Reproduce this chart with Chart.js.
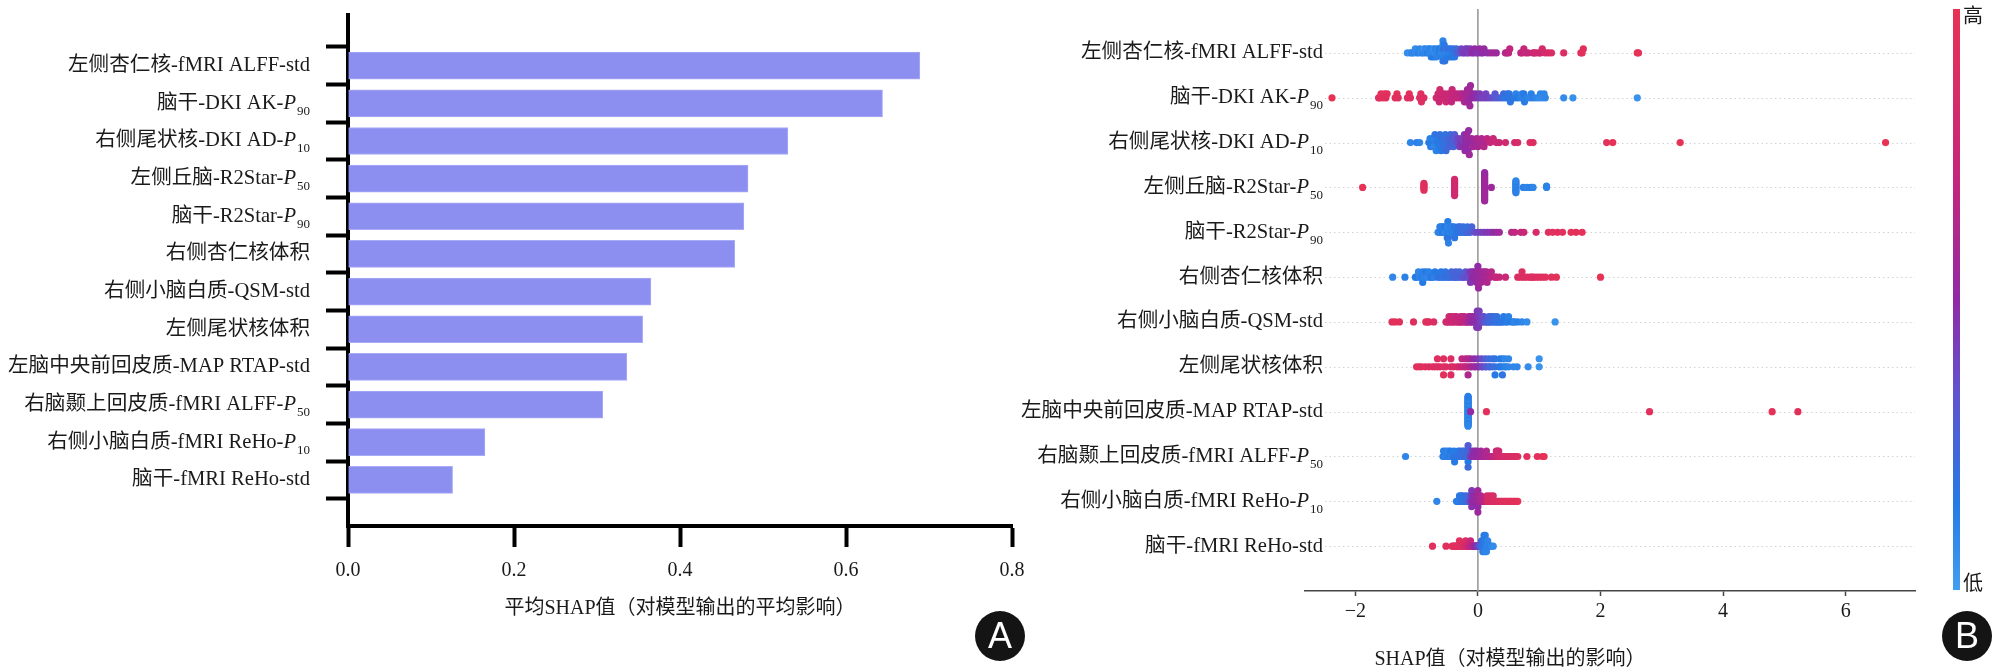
<!DOCTYPE html>
<html><head><meta charset="utf-8">
<script src="https://cdn.jsdelivr.net/npm/chart.js@4.4.1/dist/chart.umd.min.js"></script>
<style>
html,body{margin:0;padding:0;background:#fff;width:1995px;height:670px;overflow:hidden;position:relative;font-family:"Liberation Serif","Noto Sans CJK SC",serif;color:#1a1a1a}
canvas{position:absolute;top:0}
#ca{left:0}
#cb{left:1000px}
.badge{position:absolute;width:50px;height:50px;border-radius:50%;background:#141414;color:#fff;font:36px "Liberation Sans",Arial,sans-serif;line-height:50px;text-align:center}
.txt{position:absolute;font-size:20px;line-height:24px;white-space:nowrap}
#cbar{position:absolute;left:1953px;top:9px;width:7px;height:581px}
</style>
</head><body>
<canvas id="ca" width="1030" height="670"></canvas>
<canvas id="cb" width="995" height="670"></canvas>
<div id="cbar"></div>
<div class="txt" style="left:1963px;top:4px">高</div>
<div class="txt" style="left:1963px;top:571px">低</div>
<div class="txt" id="titleB" style="left:1510px;top:646px;transform:translateX(-50%)"></div>
<div class="badge" style="left:975px;top:611px">A</div>
<div class="badge" style="left:1942px;top:611px">B</div>
<script>
// ---------- DATA ----------
const featureLabels = [
  '左侧杏仁核-fMRI ALFF-std',
  '脑干-DKI AK-P90',
  '右侧尾状核-DKI AD-P10',
  '左侧丘脑-R2Star-P50',
  '脑干-R2Star-P90',
  '右侧杏仁核体积',
  '右侧小脑白质-QSM-std',
  '左侧尾状核体积',
  '左脑中央前回皮质-MAP RTAP-std',
  '右脑颞上回皮质-fMRI ALFF-P50',
  '右侧小脑白质-fMRI ReHo-P10',
  '脑干-fMRI ReHo-std'
];
const meanShap = [0.689, 0.644, 0.530, 0.482, 0.477, 0.466, 0.365, 0.355, 0.336, 0.307, 0.165, 0.126];
const xTicksA = [0, 0.2, 0.4, 0.6, 0.8];
const xTicksB = [-2, 0, 2, 4, 6];
const xTitleA = '平均SHAP值（对模型输出的平均影响）';
const xTitleB = 'SHAP值（对模型输出的影响）';

// beeswarm rows: [SHAP value, normalised feature value (0 low .. 1 high)]
const r01 = [[-1.15,.08],[-1.1,.05],[-1.08,.1],[-1.05,.1],[-1.02,.08],[-1.0,.08],[-0.97,.12],[-0.95,.1],[-0.92,.06],[-0.9,.12],[-0.88,.05],[-0.86,.1],[-0.85,.1],[-0.82,.14],[-0.8,.08],[-0.79,.1],[-0.78,.12],[-0.76,.15],[-0.75,.1],[-0.73,.08],[-0.72,.15],[-0.7,.08],[-0.69,.12],[-0.68,.12],[-0.66,.1],[-0.65,.1],[-0.63,.14],[-0.62,.15],[-0.6,.1],[-0.59,.12],[-0.58,.12],[-0.57,.08],[-0.57,.15],[-0.57,.1],[-0.56,.1],[-0.56,.2],[-0.55,.12],[-0.55,.16],[-0.54,.18],[-0.52,.1],[-0.51,.14],[-0.5,.15],[-0.49,.12],[-0.48,.2],[-0.46,.15],[-0.45,.12],[-0.44,.18],[-0.42,.18],[-0.41,.15],[-0.4,.2],[-0.38,.15],[-0.36,.2],[-0.35,.22],[-0.33,.25],[-0.3,.3],
  [-0.27,.38],[-0.25,.4],[-0.22,.42],[-0.2,.42],[-0.18,.45],[-0.17,.42],[-0.15,.4],[-0.12,.46],[-0.1,.48],[-0.07,.5],[-0.05,.5],[-0.02,.48],[0.0,.45],[0.03,.52],[0.05,.5],[0.08,.5],[0.1,.52],[0.15,.48],[0.2,.55],[0.25,.55],[0.3,.55],
  [0.45,.65],[0.47,.62],[0.5,.68],[0.52,.7],[0.7,.7],[0.72,.68],[0.75,.72],[0.78,.75],[0.82,.7],[0.9,.78],[0.92,.75],[0.95,.8],[1.0,.8],[1.02,.78],[1.05,.82],[1.1,.85],[1.15,.85],[1.2,.88],[1.4,.9],
  [1.68,.97],[1.7,.95],[1.72,.95],[2.6,1],[2.62,.98]];
const r02 = [[-2.38,1],[-1.62,.95],[-1.6,.93],[-1.58,.97],[-1.55,.95],[-1.52,.94],[-1.5,.93],[-1.48,.95],[-1.35,.95],[-1.32,.97],[-1.3,.93],[-1.15,.92],[-1.12,.94],[-1.1,.9],[-0.95,.9],[-0.93,.94],[-0.92,.92],[-0.88,.9],
  [-0.68,.8],[-0.66,.82],[-0.65,.78],[-0.63,.76],[-0.62,.8],[-0.6,.75],[-0.58,.8],[-0.55,.78],[-0.54,.75],[-0.52,.8],[-0.5,.75],[-0.48,.78],[-0.46,.74],[-0.45,.72],[-0.43,.7],[-0.42,.75],[-0.4,.7],[-0.38,.72],[-0.35,.72],[-0.33,.68],[-0.3,.7],[-0.28,.68],[-0.26,.66],[-0.25,.65],
  [-0.22,.6],[-0.21,.62],[-0.2,.58],[-0.18,.6],[-0.17,.55],[-0.16,.58],[-0.15,.6],[-0.15,.55],[-0.14,.58],[-0.13,.56],[-0.12,.55],[-0.1,.5],[-0.08,.52],[-0.05,.5],[-0.03,.48],
  [0.0,.45],[0.03,.44],[0.05,.42],[0.1,.4],[0.13,.4],[0.15,.42],[0.2,.38],[0.25,.35],[0.28,.32],[0.3,.3],[0.35,.3],
  [0.4,.2],[0.42,.22],[0.45,.18],[0.48,.2],[0.5,.15],[0.51,.18],[0.53,.16],[0.55,.2],[0.6,.15],[0.62,.12],[0.65,.15],[0.7,.12],[0.72,.1],[0.74,.12],[0.75,.15],[0.76,.14],[0.8,.12],[0.85,.1],[0.87,.12],[0.9,.12],[0.95,.1],[1.0,.08],[1.02,.1],[1.05,.08],[1.08,.1],[1.1,.1],[1.4,.08],[1.55,.06],[2.6,.05]];
const r03 = [[-1.1,.1],[-1.0,.12],[-0.95,.1],[-0.8,.15],[-0.78,.12],[-0.77,.14],[-0.75,.15],[-0.73,.12],[-0.72,.1],[-0.7,.18],[-0.68,.12],[-0.66,.16],[-0.65,.15],[-0.63,.14],[-0.62,.2],[-0.6,.15],[-0.58,.18],[-0.57,.2],[-0.55,.2],[-0.53,.18],[-0.52,.22],[-0.5,.2],[-0.48,.25],[-0.47,.24],[-0.45,.22],[-0.43,.26],[-0.42,.28],[-0.4,.25],[-0.38,.3],[-0.35,.32],
  [-0.32,.4],[-0.3,.42],[-0.28,.45],[-0.26,.42],[-0.24,.48],[-0.22,.45],[-0.21,.5],[-0.2,.48],[-0.2,.52],[-0.19,.5],[-0.18,.55],[-0.16,.5],[-0.15,.52],[-0.14,.55],[-0.12,.5],[-0.1,.55],[-0.08,.58],[-0.05,.55],[-0.02,.6],[0.0,.58],[0.03,.6],[0.06,.62],[0.1,.65],[0.12,.62],[0.15,.68],
  [0.2,.72],[0.25,.75],[0.3,.78],[0.35,.75],[0.45,.8],[0.6,.82],[0.65,.85],[0.85,.92],[0.9,.9],
  [2.1,.97],[2.2,.98],[3.3,1],[6.65,1]];
const r04 = [[-1.88,1],
  [-0.88,.95],[-0.88,.93],[-0.88,.95],[-0.88,.97],[-0.88,.95],[-0.88,.93],
  [-0.38,.8],[-0.38,.78],[-0.38,.8],[-0.38,.82],[-0.38,.8],[-0.38,.78],[-0.38,.8],[-0.38,.82],[-0.38,.8],[-0.38,.78],[-0.38,.8],[-0.38,.82],[-0.38,.8],
  [0.11,.55],[0.11,.52],[0.11,.55],[0.11,.58],[0.11,.55],[0.11,.52],[0.11,.55],[0.11,.58],[0.11,.55],[0.11,.52],[0.11,.55],[0.11,.58],[0.11,.55],[0.11,.52],[0.11,.55],[0.11,.58],[0.11,.55],[0.11,.52],[0.11,.55],[0.11,.58],[0.11,.55],[0.11,.52],
  [0.22,.55],
  [0.62,.12],[0.62,.1],[0.62,.12],[0.62,.14],[0.62,.12],[0.62,.1],[0.62,.12],[0.62,.14],[0.62,.12],[0.62,.1],
  [0.74,.12],[0.8,.1],[0.86,.12],[0.9,.1],
  [1.12,.1],[1.12,.12]];
const r05 = [[-0.65,.1],[-0.63,.12],[-0.62,.12],[-0.6,.1],[-0.6,.14],[-0.58,.15],[-0.57,.1],[-0.55,.12],[-0.55,.16],[-0.53,.1],[-0.52,.1],[-0.5,.15],[-0.5,.12],[-0.49,.12],[-0.49,.1],[-0.49,.18],[-0.49,.14],[-0.48,.12],[-0.47,.15],[-0.46,.1],[-0.45,.1],[-0.44,.14],[-0.42,.15],[-0.42,.1],[-0.4,.12],[-0.39,.16],[-0.38,.18],[-0.36,.12],[-0.35,.15],[-0.33,.18],[-0.32,.2],[-0.3,.15],[-0.29,.2],[-0.28,.2],[-0.25,.18],[-0.24,.2],[-0.22,.22],[-0.2,.2],[-0.18,.25],[-0.17,.2],[-0.15,.22],[-0.12,.28],[-0.1,.25],
  [-0.05,.35],[0.0,.38],[0.05,.4],[0.1,.42],[0.15,.45],[0.2,.45],[0.25,.5],[0.3,.52],[0.35,.55],
  [0.55,.65],[0.6,.7],[0.7,.72],[0.75,.75],[0.95,.85],
  [1.15,.92],[1.22,.95],[1.3,.93],[1.38,.95],[1.52,.97],[1.6,.95],[1.7,.98]];
const r06 = [[-1.39,.1],[-1.19,.12],[-1.02,.12],[-1.0,.15],[-0.97,.1],[-0.95,.1],[-0.92,.14],[-0.9,.12],[-0.9,.15],[-0.88,.1],[-0.86,.12],[-0.85,.15],[-0.82,.1],[-0.8,.12],[-0.77,.14],[-0.75,.18],[-0.72,.12],[-0.7,.15],[-0.65,.18],[-0.62,.2],[-0.6,.16],[-0.58,.15],[-0.55,.2],[-0.53,.18],[-0.5,.22],[-0.48,.2],[-0.45,.2],[-0.43,.24],[-0.4,.25],[-0.38,.22],[-0.36,.26],[-0.35,.28],[-0.32,.24],[-0.3,.25],[-0.27,.3],[-0.25,.3],[-0.22,.34],[-0.2,.32],[-0.17,.36],[-0.15,.35],
  [-0.13,.45],[-0.12,.45],[-0.1,.48],[-0.09,.46],[-0.08,.5],[-0.06,.48],[-0.05,.52],[-0.03,.5],[-0.02,.55],[-0.01,.5],[0.0,.55],[0.0,.52],[0.0,.5],[0.01,.54],[0.02,.52],[0.04,.56],[0.05,.58],[0.07,.55],[0.08,.55],[0.1,.6],[0.11,.58],[0.12,.58],[0.14,.6],[0.15,.62],[0.18,.6],[0.2,.64],[0.22,.65],
  [0.28,.7],[0.3,.72],[0.35,.72],[0.45,.75],
  [0.65,.88],[0.7,.9],[0.72,.9],[0.75,.88],[0.8,.92],[0.85,.9],[0.88,.92],[0.9,.92],[0.95,.9],[1.0,.93],[1.05,.92],[1.1,.95],[1.2,.95],[1.28,.97],[2.0,1]];
const r07 = [[-1.4,.95],[-1.35,.97],[-1.28,.95],[-1.05,.93],[-0.85,.95],[-0.82,.93],[-0.8,.92],[-0.72,.9],
  [-0.52,.8],[-0.5,.82],[-0.48,.78],[-0.47,.8],[-0.45,.8],[-0.43,.76],[-0.42,.75],[-0.4,.78],[-0.38,.78],[-0.36,.74],[-0.35,.72],[-0.33,.75],[-0.3,.75],[-0.29,.72],[-0.28,.7],[-0.26,.7],[-0.25,.72],[-0.23,.7],[-0.22,.68],[-0.2,.66],[-0.18,.65],[-0.16,.62],[-0.15,.62],
  [-0.13,.56],[-0.12,.55],[-0.1,.52],[-0.09,.54],[-0.08,.5],[-0.06,.52],[-0.05,.5],[-0.03,.48],[-0.02,.5],[-0.02,.45],[-0.01,.46],[0.0,.48],[0.0,.45],[0.01,.44],[0.02,.42],[0.04,.42],[0.05,.4],[0.07,.38],[0.08,.38],[0.1,.35],[0.12,.32],
  [0.15,.28],[0.16,.26],[0.18,.25],[0.2,.22],[0.21,.24],[0.22,.25],[0.25,.2],[0.26,.22],[0.28,.22],[0.3,.18],[0.31,.2],[0.33,.16],[0.35,.2],[0.38,.15],[0.4,.18],[0.42,.14],[0.45,.15],[0.48,.14],[0.5,.12],[0.55,.15],[0.58,.12],[0.6,.1],[0.65,.12],[0.72,.1],[0.8,.08],[1.26,.05]];
const r08 = [[-1.0,.95],[-0.96,.95],[-0.92,.92],[-0.86,.95],[-0.8,.9],[-0.74,.92],[-0.7,.9],[-0.62,.88],[-0.52,.9],[-0.4,.85],[-0.34,.85],[-0.3,.8],[-0.22,.72],[-0.1,.6],[-0.04,.5],[0.02,.45],[0.08,.4],[0.14,.3],[0.2,.25],[0.34,.15],[0.46,.12],[0.58,.1],[0.64,.1],[0.82,.08],
  [-0.56,.9],[-0.56,.92],[-0.56,.95],[-0.44,.88],[-0.44,.9],[-0.44,.9],[-0.16,.65],[-0.16,.7],[-0.16,.62],[0.28,.2],[0.28,.18],[0.28,.15],[0.4,.15],[0.4,.12],[0.4,.18],
  [-0.66,.9],[-0.66,.92],[-0.26,.75],[-0.26,.7],[-0.2,.7],[-0.2,.65],[-0.12,.6],[-0.12,.58],[-0.06,.55],[-0.06,.5],[0.0,.48],[0.0,.45],[0.06,.4],[0.06,.38],[0.12,.32],[0.12,.3],[0.18,.25],[0.18,.22],[0.24,.22],[0.24,.2],[0.36,.15],[0.36,.15],[0.44,.12],[0.44,.1],[0.5,.1],[0.5,.1],[1.0,.05],[1.0,.05]];
const r09 = [[-0.16,.1],[-0.16,.08],[-0.16,.12],[-0.16,.1],[-0.16,.14],[-0.16,.1],[-0.16,.08],[-0.16,.12],[-0.16,.1],[-0.16,.14],
  [-0.16,.1],[-0.16,.08],[-0.16,.12],[-0.16,.1],[-0.16,.14],[-0.16,.1],[-0.16,.08],[-0.16,.12],[-0.16,.1],[-0.16,.14],
  [-0.16,.1],[-0.16,.08],[-0.16,.12],[-0.16,.1],[-0.16,.14],[-0.16,.1],[-0.16,.08],[-0.16,.12],[-0.16,.1],[-0.16,.14],
  [-0.16,.1],[-0.16,.08],[-0.16,.12],[-0.16,.1],[-0.16,.14],[-0.16,.1],[-0.16,.08],[-0.16,.12],[-0.16,.1],[-0.16,.14],
  [-0.12,.5],[0.14,.95],[2.8,.95],[4.8,.97],[5.22,.95]];
const r10 = [[-1.18,.1],
  [-0.57,.12],[-0.56,.14],[-0.55,.15],[-0.53,.1],[-0.52,.12],[-0.5,.15],[-0.49,.12],[-0.48,.1],[-0.46,.14],[-0.45,.15],[-0.43,.1],[-0.42,.12],[-0.4,.18],[-0.39,.14],[-0.38,.15],[-0.36,.18],[-0.35,.2],[-0.33,.16],[-0.32,.15],[-0.3,.2],[-0.29,.18],[-0.28,.18],[-0.26,.2],[-0.25,.22],[-0.23,.2],[-0.22,.2],[-0.2,.25],[-0.19,.22],
  [-0.16,.2],[-0.16,.25],[-0.16,.15],[-0.16,.3],[-0.16,.22],
  [-0.13,.38],[-0.12,.4],[-0.1,.45],[-0.09,.44],[-0.08,.48],[-0.06,.5],[-0.05,.5],[-0.03,.48],[-0.02,.5],[0.0,.52],[0.01,.54],[0.03,.55],[0.05,.56],[0.06,.55],[0.08,.58],[0.1,.58],[0.12,.6],[0.14,.62],[0.15,.6],[0.18,.64],[0.2,.62],[0.22,.65],[0.25,.68],
  [0.28,.72],[0.3,.75],[0.31,.74],[0.32,.78],[0.33,.8],[0.34,.78],[0.36,.8],[0.38,.8],[0.4,.82],[0.43,.84],[0.45,.85],[0.48,.86],[0.5,.85],[0.52,.88],[0.55,.88],[0.58,.9],[0.6,.9],[0.62,.88],[0.65,.9],
  [0.8,.95],[0.97,.97],[1.05,.95],[1.08,.98]];
const r11 = [[-0.67,.1],
  [-0.35,.12],[-0.33,.14],[-0.32,.15],[-0.3,.12],[-0.3,.16],[-0.28,.18],[-0.27,.14],[-0.25,.15],[-0.25,.18],[-0.23,.2],[-0.22,.2],[-0.2,.18],[-0.2,.22],[-0.18,.22],[-0.17,.2],[-0.15,.25],[-0.15,.22],[-0.13,.3],
  [-0.12,.4],[-0.11,.38],[-0.1,.45],[-0.1,.42],[-0.1,.48],[-0.1,.44],[-0.08,.5],[-0.07,.48],[-0.05,.5],[-0.05,.52],[-0.03,.55],[-0.02,.52],[0.0,.52],[0.0,.55],[0.0,.5],[0.0,.56],[0.0,.54],[0.02,.58],[0.03,.56],[0.05,.6],[0.05,.62],[0.08,.62],[0.1,.65],[0.12,.68],
  [0.15,.82],[0.15,.84],[0.18,.85],[0.2,.88],[0.2,.86],[0.22,.85],[0.25,.9],[0.25,.88],[0.28,.88],[0.3,.92],[0.33,.9],[0.35,.9],[0.38,.92],[0.4,.93],[0.43,.94],[0.45,.92],[0.48,.94],[0.5,.95],[0.53,.95],[0.55,.93],[0.58,.96],[0.6,.95],[0.63,.96],[0.65,.97]];
const r12 = [[-0.74,.95],[-0.52,.95],[-0.42,.93],[-0.4,.95],[-0.38,.95],[-0.36,.92],[-0.35,.92],[-0.33,.94],[-0.32,.95],[-0.3,.9],[-0.3,.93],[-0.28,.92],[-0.26,.9],[-0.25,.9],[-0.23,.9],[-0.22,.88],[-0.2,.85],[-0.2,.87],[-0.18,.82],[-0.17,.8],
  [-0.15,.75],[-0.14,.72],[-0.12,.7],[-0.12,.72],[-0.1,.68],[-0.09,.65],[-0.08,.62],
  [-0.06,.55],[-0.05,.52],[-0.04,.5],[-0.03,.5],[-0.02,.48],[-0.01,.46],[0.0,.45],[0.01,.42],[0.02,.4],
  [0.03,.32],[0.04,.3],[0.05,.28],[0.06,.25],[0.06,.22],[0.07,.2],[0.08,.2],[0.08,.22],[0.08,.18],[0.09,.18],[0.1,.15],[0.1,.18],[0.1,.12],[0.1,.14],[0.11,.15],[0.12,.15],[0.12,.12],[0.12,.1],[0.12,.14],[0.13,.12],[0.14,.12],[0.14,.15],[0.14,.1],[0.15,.1],[0.16,.12],[0.16,.1],[0.17,.12],[0.18,.1],[0.19,.1],[0.2,.12],[0.22,.1],[0.25,.08]];
const swarmRows = [r01, r02, r03, r04, r05, r06, r07, r08, r09, r10, r11, r12];

// ---------- STYLE / HELPERS ----------
const FONT = '"Liberation Serif", "Noto Sans CJK SC", serif';
const TEXT = '#1a1a1a';
const cmapStops = [[0.0,[66,158,240]],[0.15,[38,122,228]],[0.35,[100,80,205]],[0.5,[145,42,165]],[0.7,[195,38,125]],[1.0,[232,50,85]]];
function colorFor(t) {
  t = Math.max(0, Math.min(1, t));
  for (let i = 1; i < cmapStops.length; i++) {
    const [t1, c1] = cmapStops[i], [t0, c0] = cmapStops[i-1];
    if (t <= t1) {
      const f = (t - t0) / (t1 - t0);
      return `rgb(${c0.map((c, k) => Math.round(c + (c1[k]-c) * f)).join(',')})`;
    }
  }
  return 'rgb(232,50,85)';
}
document.getElementById('cbar').style.background =
  'linear-gradient(to top,' + cmapStops.map(([t, c]) => `rgb(${c.join(',')}) ${t*100}%`).join(',') + ')';
document.getElementById('titleB').textContent = xTitleB;

// SHAP-style beeswarm layout (deterministic binning of each row's values)
function swarm(xs) {
  const nbins = 100, mn = Math.min(...xs), mx = Math.max(...xs);
  const quant = xs.map(v => Math.round(nbins * (v - mn) / (mx - mn + 1e-8)));
  const inds = xs.map((_, i) => i).sort((a, b) => quant[a] - quant[b] || a - b);
  const ys = new Array(xs.length).fill(0);
  let layer = 0, last = -1;
  for (const i of inds) {
    if (quant[i] !== last) layer = 0;
    ys[i] = Math.ceil(layer / 2) * ((layer % 2) * 2 - 1);
    layer++; last = quant[i];
  }
  const m = Math.max(...ys.map(y => y + 1));
  return ys.map(y => y * 0.9 * (0.4 / m));
}

function drawFeatureLabel(ctx, text, xRight, y) {
  const m = text.match(/^(.*-)P(\d+)$/);
  ctx.save();
  ctx.fillStyle = TEXT; ctx.textBaseline = 'middle';
  const base = '20.6px ' + FONT, ital = 'italic 20.6px "Liberation Serif", serif', sub = '13px "Liberation Serif", serif';
  if (!m) {
    ctx.font = base; ctx.textAlign = 'right'; ctx.fillText(text, xRight, y);
  } else {
    ctx.textAlign = 'left';
    ctx.font = sub; const ws = ctx.measureText(m[2]).width;
    ctx.font = ital; const wp = ctx.measureText('P').width;
    ctx.font = base; const wb = ctx.measureText(m[1]).width;
    const xp = xRight - ws - wp - 1;
    ctx.fillText(m[1], xp - wb, y);
    ctx.font = ital; ctx.fillText('P', xp, y);
    ctx.font = sub; ctx.fillText(m[2], xp + wp + 1, y + 8);
  }
  ctx.restore();
}
function noPad(s) { s.paddingLeft = 0; s.paddingRight = 0; s.paddingTop = 0; s.paddingBottom = 0; }

// ---------- CHART A ----------
const labelsA = {
  id: 'labelsA',
  afterDraw(chart) {
    const ys = chart.scales.y;
    featureLabels.forEach((t, i) => drawFeatureLabel(chart.ctx, t, 310, ys.getPixelForValue(i)));
  }
};
new Chart(document.getElementById('ca'), {
  type: 'bar',
  data: { datasets: [{
    data: meanShap.map((v, i) => ({ x: v, y: i })),
    backgroundColor: '#8c8ff0', borderColor: '#a9abf6', borderWidth: 1, barThickness: 27
  }]},
  options: {
    indexAxis: 'y', responsive: false, animation: false, events: [],
    layout: { padding: { top: 15, right: 18, left: 0, bottom: 0 } },
    plugins: { legend: { display: false }, tooltip: { enabled: false } },
    scales: {
      x: {
        type: 'linear', min: 0, max: 0.8,
        afterBuildTicks: s => { s.ticks = xTicksA.map(v => ({ value: v })); },
        afterFit: s => { s.height = 144; noPad(s); },
        grid: { drawOnChartArea: false, drawTicks: true, tickLength: 21, tickWidth: 4, tickColor: '#000' },
        border: { color: '#000', width: 4 },
        ticks: { autoSkip: false, maxRotation: 0, padding: 12, color: TEXT, font: { family: FONT, size: 20 }, callback: v => Number(v).toFixed(1) },
        title: { display: true, text: xTitleA, color: TEXT, font: { family: FONT, size: 20 }, padding: { top: 0, bottom: 49 } }
      },
      y: {
        type: 'linear', reverse: true, min: -0.78, max: 11.66,
        afterBuildTicks: s => { s.ticks = featureLabels.map((_, i) => ({ value: i })); },
        afterFit: s => { s.width = 348; noPad(s); },
        grid: { drawOnChartArea: false, drawTicks: true, tickLength: 22, tickWidth: 4, tickColor: '#000' },
        border: { color: '#000', width: 4 },
        ticks: { display: false }
      }
    }
  },
  plugins: [labelsA]
});

// ---------- CHART B ----------
const pts = [], cols = [];
swarmRows.forEach((row, i) => {
  const off = swarm(row.map(p => p[0]));
  row.forEach((p, k) => { pts.push({ x: p[0], y: i - off[k] }); cols.push(colorFor(p[1])); });
});
const decorB = {
  id: 'decorB',
  beforeDatasetsDraw(chart) {
    const { ctx, chartArea: a, scales: { x, y } } = chart;
    ctx.save();
    ctx.strokeStyle = '#d2d2d2'; ctx.lineWidth = 1; ctx.setLineDash([1.5, 3]);
    featureLabels.forEach((_, i) => {
      const py = Math.round(y.getPixelForValue(i)) + 0.5;
      ctx.beginPath(); ctx.moveTo(a.left + 20, py); ctx.lineTo(a.right, py); ctx.stroke();
    });
    ctx.setLineDash([]);
    ctx.strokeStyle = '#9a9a9a'; ctx.lineWidth = 1.6;
    const px = x.getPixelForValue(0);
    ctx.beginPath(); ctx.moveTo(px, a.top); ctx.lineTo(px, a.bottom); ctx.stroke();
    ctx.restore();
  },
  afterDraw(chart) {
    const ys = chart.scales.y;
    featureLabels.forEach((t, i) => drawFeatureLabel(chart.ctx, t, 323, ys.getPixelForValue(i)));
  }
};
new Chart(document.getElementById('cb'), {
  type: 'scatter',
  data: { datasets: [{ data: pts, backgroundColor: cols, pointRadius: 3.6, pointBorderWidth: 0, pointHoverRadius: 3.6 }] },
  options: {
    responsive: false, animation: false, events: [],
    layout: { padding: { top: 9, right: 80, left: 0, bottom: 0 } },
    plugins: { legend: { display: false }, tooltip: { enabled: false } },
    scales: {
      x: {
        type: 'linear', min: -2.82, max: 7.13,
        afterBuildTicks: s => { s.ticks = xTicksB.map(v => ({ value: v })); },
        afterFit: s => { s.height = 79; noPad(s); },
        grid: { drawOnChartArea: false, drawTicks: true, tickLength: 5, tickWidth: 1.5, tickColor: '#444' },
        border: { color: '#444', width: 1.5 },
        ticks: { autoSkip: false, maxRotation: 0, padding: 4, color: TEXT, font: { family: FONT, size: 20 },
                 callback: v => v < 0 ? '\u2212' + Math.abs(v) : String(v) }
      },
      y: {
        type: 'linear', reverse: true, min: -0.98, max: 12.0,
        afterFit: s => { s.width = 305; noPad(s); },
        grid: { display: false }, border: { display: false }, ticks: { display: false }
      }
    }
  },
  plugins: [decorB]
});
</script>
</body></html>
